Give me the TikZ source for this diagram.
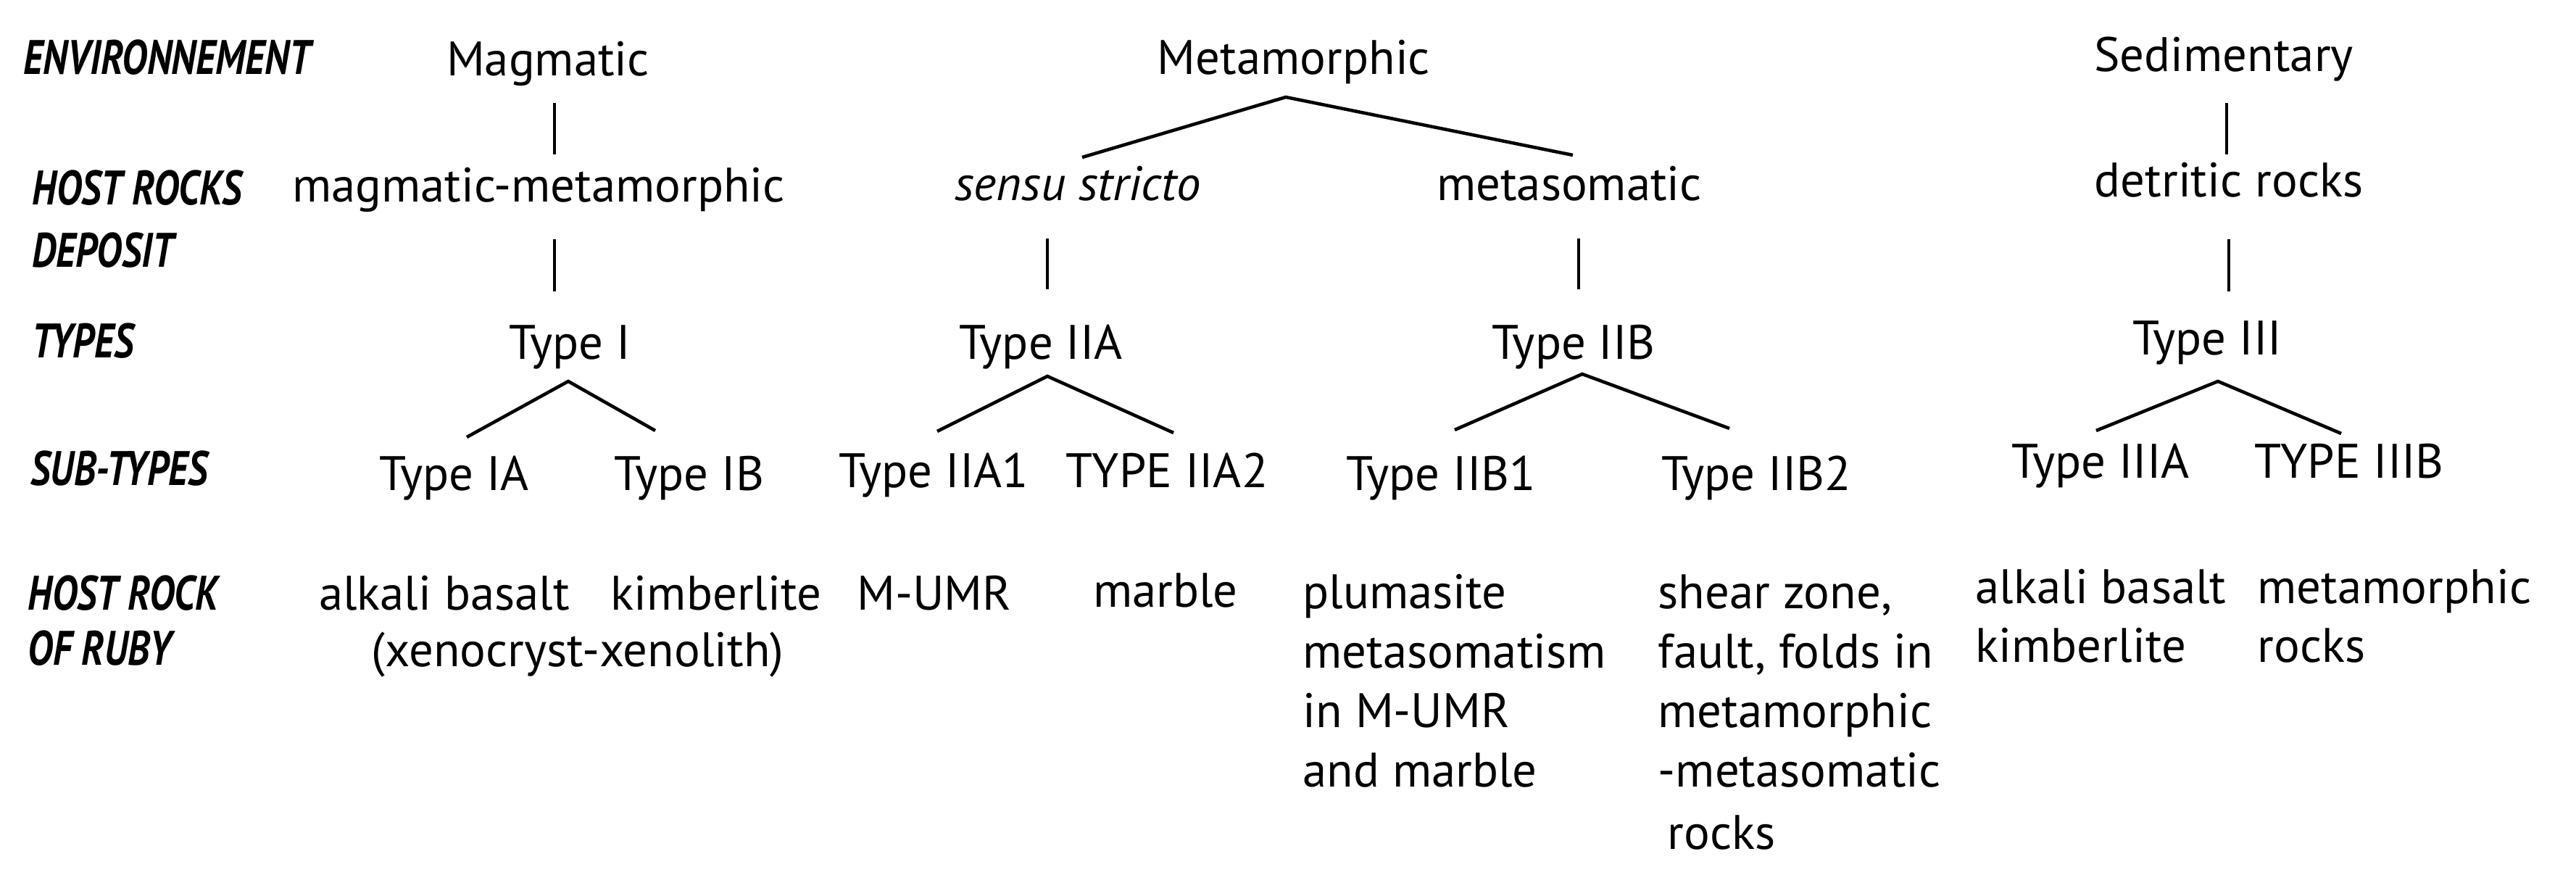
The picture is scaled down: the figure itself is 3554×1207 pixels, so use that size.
\documentclass[tikz,border=0pt]{standalone}
\usepackage{fontspec}
\setmainfont{PT Sans}
\begin{document}
\begin{tikzpicture}[x=0.01cm,y=-0.01cm,
  t/.style={inner sep=0pt,anchor=base,font=\fontsize{19}{23}\selectfont},
  tl/.style={t,anchor=base west},
  lab/.style={inner sep=0pt,anchor=base west,font=\fontsize{19}{23}\selectfont\bfseries\itshape},
  ln/.style={line width=1.3pt}]
\useasboundingbox (0,0) rectangle (3554,1207);
% left labels
\node[lab] (l1) at (32,103) {\scalebox{0.8}[1]{ENVIRONNEMENT}};
\node[lab] (l2) at (44,283) {\scalebox{0.8}[1]{HOST ROCKS}};
\node[lab] (l3) at (44,369) {\scalebox{0.8}[1]{DEPOSIT}};
\node[lab] (l4) at (44,494) {\scalebox{0.8}[1]{TYPES}};
\node[lab] (l5) at (42,670) {\scalebox{0.8}[1]{SUB-TYPES}};
\node[lab] (l6) at (38,842) {\scalebox{0.8}[1]{HOST ROCK}};
\node[lab] (l7) at (38,918) {\scalebox{0.8}[1]{OF RUBY}};
% magmatic
\node[t] (mag) at (756,105) {Magmatic};
\node[t] (mm) at (743,279) {magmatic-metamorphic};
\node[t] (t1) at (786,496) {Type I};
\node[t] (t1a) at (627,677) {Type IA};
\node[t] (t1b) at (951,677) {Type IB};
\node[t] (r1) at (613,842) {alkali basalt};
\node[t] (r1b) at (797,920) {(xenocryst-xenolith)};
\node[t] (r2) at (988,842) {kimberlite};
% metamorphic
\node[t] (met) at (1785,103) {Metamorphic};
\node[t] (ss) at (1487,277) {\itshape sensu stricto};
\node[t] (ms) at (2165,277) {metasomatic};
\node[t] (t2a) at (1436,496) {Type IIA};
\node[t] (t2b) at (2171,496) {Type IIB};
\node[t] (t2a1) at (1288,673) {Type IIA1};
\node[t] (t2a2) at (1610,673) {TYPE IIA2};
\node[t] (t2b1) at (1988,677) {Type IIB1};
\node[t] (t2b2) at (2423,677) {Type IIB2};
\node[t] (r3) at (1289,842) {M-UMR};
\node[t] (r4) at (1608,838) {marble};
\node[tl] (r5a) at (1797,840) {plumasite};
\node[tl] (r5b) at (1797,922) {metasomatism};
\node[tl] (r5c) at (1797,1004) {in M-UMR};
\node[tl] (r5d) at (1797,1086) {and marble};
\node[tl] (r6a) at (2287,840) {shear zone,};
\node[tl] (r6b) at (2287,922) {fault, folds in};
\node[tl] (r6c) at (2287,1004) {metamorphic};
\node[tl] (r6d) at (2287,1086) {-metasomatic};
\node[tl] (r6e) at (2300,1171) {rocks};
% sedimentary
\node[t] (sed) at (3068,99) {Sedimentary};
\node[t] (det) at (3075,272) {detritic rocks};
\node[t] (t3) at (3045,490) {Type III};
\node[t] (t3a) at (2898,660) {Type IIIA};
\node[t] (t3b) at (3241,660) {TYPE IIIB};
\node[tl] (r7a) at (2725,833) {alkali basalt};
\node[tl] (r7b) at (2725,914) {kimberlite};
\node[tl] (r8a) at (3114,833) {metamorphic};
\node[tl] (r8b) at (3114,914) {rocks};
% connectors
\coordinate (a1) at (765,142); \coordinate (a2) at (765,213);
\coordinate (b1) at (765,330); \coordinate (b2) at (765,402);
\coordinate (c0) at (784,526); \coordinate (c1) at (644,603); \coordinate (c2) at (904,594);
\draw[ln] (a1) -- (a2); \draw[ln] (b1) -- (b2);
\draw[ln] (c1) -- (c0) -- (c2);
\coordinate (d0) at (1774,134); \coordinate (d1) at (1493,217); \coordinate (d2) at (2170,214);
\draw[ln] (d1) -- (d0) -- (d2);
\coordinate (e1) at (1445,329); \coordinate (e2) at (1445,399);
\coordinate (f1) at (2178,329); \coordinate (f2) at (2178,399);
\draw[ln] (e1) -- (e2); \draw[ln] (f1) -- (f2);
\coordinate (g0) at (1445,519); \coordinate (g1) at (1293,595); \coordinate (g2) at (1619,597);
\draw[ln] (g1) -- (g0) -- (g2);
\coordinate (h0) at (2183,516); \coordinate (h1) at (2007,593); \coordinate (h2) at (2386,591);
\draw[ln] (h1) -- (h0) -- (h2);
\coordinate (i1) at (3072,142); \coordinate (i2) at (3072,213);
\coordinate (j1) at (3075,330); \coordinate (j2) at (3075,402);
\draw[ln] (i1) -- (i2); \draw[ln] (j1) -- (j2);
\coordinate (k0) at (3060,526); \coordinate (k1) at (2892,594); \coordinate (k2) at (3230,598);
\draw[ln] (k1) -- (k0) -- (k2);
\end{tikzpicture}
\end{document}
